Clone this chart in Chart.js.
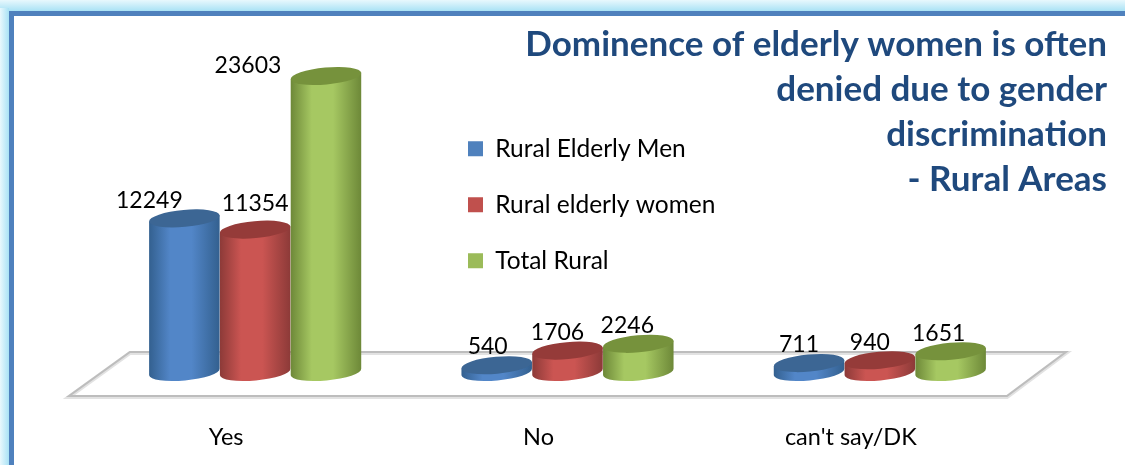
<!DOCTYPE html>
<html>
<head>
<meta charset="utf-8">
<style>html,body{margin:0;padding:0;background:#fff}canvas{display:block}</style>
<script src="https://cdn.jsdelivr.net/npm/chart.js@4"></script>
</head>
<body>
<canvas id="c" width="1125" height="465"></canvas>
<script>
const categories = ["Yes", "No", "can't say/DK"];
const ruralElderlyMen = [12249, 540, 711];
const ruralElderlyWomen = [11354, 1706, 940];
const totalRural = [23603, 2246, 1651];
const seriesNames = ["Rural Elderly Men", "Rural elderly women", "Total Rural"];
const titleLines = ["Dominence of elderly women is often", "denied due to gender", "discrimination", "- Rural Areas"];

const FONT = "Lato, Carlito, sans-serif";
const palette = [
  {flat:"#4f81bd", edge:"#33608f", mid:"#5286c8", top:"#3c6694"},
  {flat:"#c0504d", edge:"#8c3a38", mid:"#cb5552", top:"#953b39"},
  {flat:"#9bbb59", edge:"#6d8838", mid:"#a6c862", top:"#76923c"}
];
const labelOffsets = [
  [[-35,-18],[-9,-19],[-10,-19]],
  [[0,-26],[-10,-18],[-10,-18]],
  [[-78,-10],[-11,-18],[-12,-18]]
];
const TILT = -0.09, RY = 8.5;

const cylinders = {
  id: "cylinders",
  beforeLayout(chart) {
    const t = chart.titleBlock;
    if (t && !t._flat) {
      const u = t.update;
      t.update = function (w, h, m) { u.call(this, w, h, m); this.height = 0; this.bottom = this.top; };
      t._flat = true;
    }
  },
  beforeDraw(chart) {
    const {ctx, width, height, chartArea: a} = chart;
    ctx.save();
    ctx.fillStyle = "#fff";
    ctx.fillRect(0, 0, width, height);
    let g = ctx.createLinearGradient(0, 0, 0, 11);
    g.addColorStop(0, "#e8f8fd"); g.addColorStop(1, "#a9e2f5");
    ctx.fillStyle = g; ctx.fillRect(0, 0, width, 11);
    g = ctx.createLinearGradient(0, 0, 9, 0);
    g.addColorStop(0, "#e8f8fd"); g.addColorStop(1, "#a9e2f5");
    ctx.fillStyle = g; ctx.fillRect(0, 8, 9, height - 8);
    ctx.fillStyle = "#4f81bd";
    ctx.fillRect(9, 11, width - 9, 5);
    ctx.fillRect(9, 11, 5, height - 11);
    const base = chart.scales.y.getPixelForValue(0);
    const back = base - 20, front = base + 24;
    const pts = [[a.left + 31, back], [a.right + 30, back], [a.right - 29, front], [a.left - 30, front]];
    [["#e2e2e2", 4, 1], ["#bdbdbd", 2, 0]].forEach(([col, w, dy]) => {
      ctx.strokeStyle = col; ctx.lineWidth = w; ctx.lineJoin = "miter";
      ctx.beginPath();
      pts.forEach((p, i) => i ? ctx.lineTo(p[0], p[1] + dy) : ctx.moveTo(p[0], p[1] + dy));
      ctx.closePath(); ctx.stroke();
    });
    ctx.restore();
    const t = chart.titleBlock;
    t.left = 0; t.right = 1107; t.top = 22.5; t.bottom = 202;
    const l = chart.legend;
    const lw = l.width, lh = l.height;
    l.left = 436.5; l.top = 105; l.right = 436.5 + lw; l.bottom = 105 + lh;
  },
  beforeDatasetDraw() {
    return false;
  },
  afterDatasetsDraw(chart) {
    const {ctx} = chart;
    ctx.save();
    palette.forEach((c, i) => {
      chart.getDatasetMeta(i).data.forEach(el => {
        const rx = el.width / 2;
        const dx = rx * Math.cos(TILT), dy = rx * Math.sin(TILT);
        const g = ctx.createLinearGradient(el.x - rx, 0, el.x + rx, 0);
        g.addColorStop(0, c.edge); g.addColorStop(0.3, c.mid);
        g.addColorStop(0.6, c.mid); g.addColorStop(1, c.edge);
        ctx.fillStyle = g;
        ctx.beginPath();
        ctx.moveTo(el.x + dx, el.y + dy);
        ctx.lineTo(el.x + dx, el.base + dy);
        ctx.ellipse(el.x, el.base, rx, RY, TILT, 0, Math.PI);
        ctx.lineTo(el.x - dx, el.y - dy);
        ctx.closePath();
        ctx.fill();
        ctx.fillStyle = c.top;
        ctx.beginPath();
        ctx.ellipse(el.x, el.y, rx, RY, TILT, 0, Math.PI * 2);
        ctx.fill();
      });
    });
    ctx.font = "23px " + FONT;
    ctx.fillStyle = "#000";
    ctx.textAlign = "center";
    ctx.textBaseline = "middle";
    chart.data.datasets.forEach((ds, i) => {
      chart.getDatasetMeta(i).data.forEach((el, j) => {
        const o = labelOffsets[i][j];
        ctx.fillText(String(ds.data[j]), el.x + o[0], el.y + o[1]);
      });
    });
    ctx.restore();
  }
};

new Chart(document.getElementById("c"), {
  type: "bar",
  data: {
    labels: categories,
    datasets: [
      {label: seriesNames[0], data: ruralElderlyMen, backgroundColor: palette[0].flat},
      {label: seriesNames[1], data: ruralElderlyWomen, backgroundColor: palette[1].flat},
      {label: seriesNames[2], data: totalRural, backgroundColor: palette[2].flat}
    ]
  },
  options: {
    responsive: false,
    animation: false,
    layout: {padding: {left: 99, right: 89, top: 58.5, bottom: 14}},
    datasets: {bar: {categoryPercentage: 0.68, barPercentage: 1}},
    scales: {
      x: {
        afterFit(scale) { scale.height = 79; },
        grid: {display: false, drawTicks: false},
        border: {display: false},
        ticks: {color: "#000", padding: 51, labelOffset: -29, maxRotation: 0, font: {family: FONT, size: 23.5, lineHeight: 1.2}}
      },
      y: {display: false, min: 0, max: 25000}
    },
    plugins: {
      title: {
        display: true,
        text: titleLines,
        align: "end",
        color: "#1f497d",
        padding: 0,
        font: {family: FONT, size: 35, weight: "bold", lineHeight: 45 / 35}
      },
      legend: {
        display: true,
        position: "chartArea",
        align: "start",
        labels: {
          color: "#000",
          boxWidth: 15, boxHeight: 15,
          padding: 31.5,
          font: {family: FONT, size: 24.5}
        }
      },
      tooltip: {enabled: false}
    }
  },
  plugins: [cylinders]
});
</script>
</body>
</html>
